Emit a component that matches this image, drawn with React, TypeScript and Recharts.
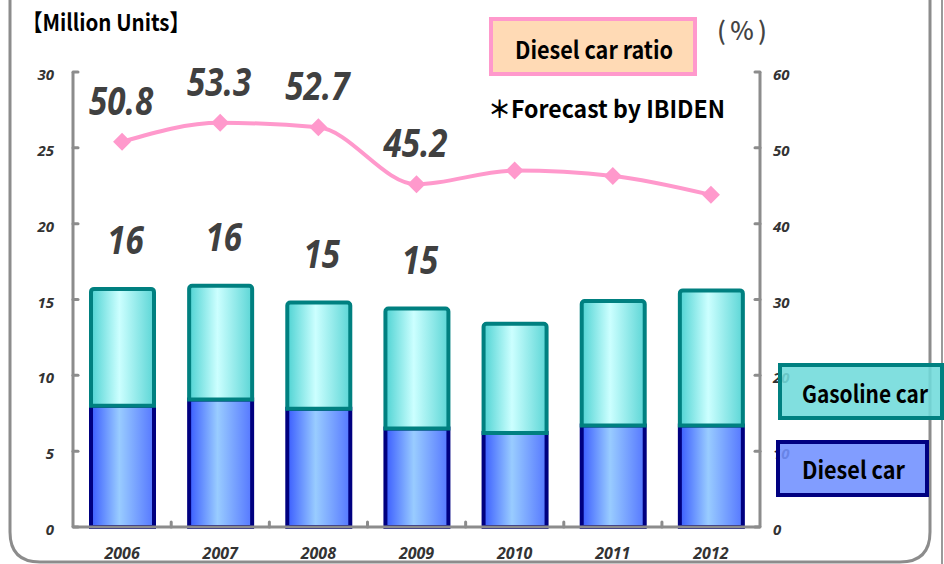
import React from "react";
import { Bar, ComposedChart, LabelList, Line, XAxis, YAxis } from "recharts";

const YEARS = ["2006", "2007", "2008", "2009", "2010", "2011", "2012"];
const DIESEL = [8.0, 8.4, 7.8, 6.5, 6.2, 6.7, 6.7];
const GASOLINE = [7.7, 7.5, 7.0, 7.9, 7.2, 8.2, 8.9];
const DIESEL_RATIO = [50.8, 53.3, 52.7, 45.2, 47.0, 46.3, 43.8];
const TOTAL_LABELS = ["16", "16", "15", "15", null, null, null];
const RATIO_LABELS = ["50.8", "53.3", "52.7", "45.2", null, null, null];
const LEFT_TICKS = [0, 5, 10, 15, 20, 25, 30];
const RIGHT_TICKS = [0, 10, 20, 30, 40, 50, 60];

const rows = YEARS.map((year, i) => ({
  year,
  diesel: DIESEL[i],
  gasoline: GASOLINE[i],
  ratio: DIESEL_RATIO[i],
  totalLabel: TOTAL_LABELS[i],
  ratioLabel: RATIO_LABELS[i],
}));

const AXIS = "#8c8c8c";
const NUM_FONT = "'Open Sans', 'DejaVu Sans', sans-serif";
const JP_FONT = "'Noto Sans CJK JP', 'Noto Sans', sans-serif";

function BigLabel({ x, y, text }: { x: number; y: number; text: string }) {
  return (
    <g transform={`translate(${x},${y}) scale(0.85,1)`}>
      <text
        x={0}
        y={14}
        textAnchor="middle"
        fontFamily={NUM_FONT}
        fontStyle="italic"
        fontWeight={700}
        fontSize={39}
        fill="#404040"
      >
        {text}
      </text>
    </g>
  );
}

const LeftTick = (props: any) => {
  const { x, y, payload } = props;
  return (
    <g>
      <line x1={x} x2={x + 5} y1={y} y2={y} stroke={AXIS} strokeWidth={3} strokeLinecap="round" />
      <text x={x - 19} y={y + 8} textAnchor="end" fontFamily={NUM_FONT} fontStyle="italic" fontWeight={700} fontSize={15} fill="#333">
        {payload.value}
      </text>
    </g>
  );
};

const RightTick = (props: any) => {
  const { x, y, payload } = props;
  return (
    <g>
      <line x1={x - 5} x2={x} y1={y} y2={y} stroke={AXIS} strokeWidth={3} strokeLinecap="round" />
      <text x={x + 13} y={y + 8} textAnchor="start" fontFamily={NUM_FONT} fontStyle="italic" fontWeight={700} fontSize={15} fill="#333">
        {payload.value}
      </text>
    </g>
  );
};

const BottomTick = (props: any) => {
  const { x, y, payload, index } = props;
  return (
    <g>
      {index > 0 && <line x1={x - 49} x2={x - 49} y1={y - 5} y2={y} stroke={AXIS} strokeWidth={3} strokeLinecap="round" />}
      <text x={x} y={y + 32} textAnchor="middle" fontFamily={NUM_FONT} fontStyle="italic" fontWeight={700} fontSize={16} fill="#333">
        {payload.value}
      </text>
    </g>
  );
};

const Diamond = (props: any) => {
  const { cx, cy, index } = props;
  return (
    <path
      key={`d-${index}`}
      d={`M${cx} ${cy - 9} L${cx + 9} ${cy} L${cx} ${cy + 9} L${cx - 9} ${cy} Z`}
      fill="#ff99cc"
    />
  );
};

export default function App() {
  return (
    <div style={{ position: "absolute", left: 0, top: 0, width: 944, height: 564, background: "#fff", overflow: "hidden" }}>
      <svg width={0} height={0} style={{ position: "absolute" }}>
        <defs>
          <linearGradient id="dieselGrad" x1="0" y1="0" x2="1" y2="0">
            <stop offset="0%" stopColor="#3a5cff" />
            <stop offset="45%" stopColor="#99ccff" />
            <stop offset="100%" stopColor="#5577ff" />
          </linearGradient>
          <linearGradient id="gasGrad" x1="0" y1="0" x2="1" y2="0">
            <stop offset="0%" stopColor="#4fd3d3" />
            <stop offset="45%" stopColor="#ccffff" />
            <stop offset="100%" stopColor="#5cd6d6" />
          </linearGradient>
        </defs>
      </svg>

      <svg width={944} height={564} style={{ position: "absolute", left: 0, top: 0 }}>
        <path d="M10 -10 L10 532 Q10 562 40 562 L900 562 Q930 562 930 532 L930 -10" fill="none" stroke={AXIS} strokeWidth={3} />
        <line x1={942} x2={942} y1={0} y2={564} stroke="#9a9a9a" strokeWidth={2} />
      </svg>

      <div style={{ position: "absolute", left: 0, top: 0 }}>
        <ComposedChart width={944} height={564} data={rows} margin={{ top: 72, right: 0, bottom: 0, left: 0 }} barCategoryGap="18%">
          <XAxis
            dataKey="year"
            height={37}
            axisLine={{ stroke: AXIS, strokeWidth: 3 }}
            tickLine={false}
            tickSize={0}
            tickMargin={0}
            tick={BottomTick}
            interval={0}
          />
          <YAxis
            yAxisId="left"
            orientation="left"
            width={73}
            domain={[0, 30]}
            ticks={LEFT_TICKS}
            interval={0}
            axisLine={{ stroke: AXIS, strokeWidth: 3 }}
            tickLine={false}
            tickSize={0}
            tickMargin={0}
            tick={LeftTick}
          />
          <YAxis
            yAxisId="right"
            orientation="right"
            width={184}
            domain={[0, 60]}
            ticks={RIGHT_TICKS}
            interval={0}
            axisLine={{ stroke: AXIS, strokeWidth: 3 }}
            tickLine={false}
            tickSize={0}
            tickMargin={0}
            tick={RightTick}
          />
          <Bar
            yAxisId="left"
            dataKey="diesel"
            stackId="units"
            barSize={63}
            fill="url(#dieselGrad)"
            stroke="#000080"
            strokeWidth={4}
            isAnimationActive={false}
          />
          <Bar
            yAxisId="left"
            dataKey="gasoline"
            stackId="units"
            barSize={63}
            fill="url(#gasGrad)"
            stroke="#008080"
            strokeWidth={4}
            radius={[3, 3, 0, 0]}
            isAnimationActive={false}
          >
            <LabelList
              dataKey="totalLabel"
              content={(p: any) =>
                p.value ? <BigLabel key={`t-${p.index}`} x={p.x + p.width / 2 + 3} y={p.y - 49} text={p.value} /> : null
              }
            />
          </Bar>
          <Line
            yAxisId="right"
            dataKey="ratio"
            type="monotone"
            stroke="#ff99cc"
            strokeWidth={4}
            dot={Diamond}
            activeDot={false}
            isAnimationActive={false}
          >
            <LabelList
              dataKey="ratioLabel"
              content={(p: any) => (p.value ? <BigLabel key={`r-${p.index}`} x={p.x - 1} y={p.y - 41} text={p.value} /> : null)}
            />
          </Line>
        </ComposedChart>
      </div>

      <svg width={944} height={564} style={{ position: "absolute", left: 0, top: 0, pointerEvents: "none" }}>
        <text x={22} y={31} textLength={168} lengthAdjust="spacingAndGlyphs" fontFamily={JP_FONT} fontWeight={700} fontSize={23} fill="#000">
          【Million Units】
        </text>

        <rect x={491} y={19} width={204} height={55} fill="#ffdab5" stroke="#ff99cc" strokeWidth={4} />
        <text x={515} y={59} textLength={158} lengthAdjust="spacingAndGlyphs" fontFamily={JP_FONT} fontWeight={700} fontSize={24} fill="#000">
          Diesel car ratio
        </text>
        <text x={717} y={40} textLength={50} lengthAdjust="spacing" fontFamily={JP_FONT} fontWeight={500} fontSize={25} fill="#444">
          (%)
        </text>
        <text x={488} y={118} textLength={237} lengthAdjust="spacingAndGlyphs" fontFamily={JP_FONT} fontWeight={700} fontSize={24} fill="#000">
          ＊Forecast by IBIDEN
        </text>

        <rect x={780} y={365} width={162} height={53} fill="#6fdbdb" fillOpacity={0.88} stroke="#008080" strokeWidth={4} />
        <text x={802} y={403} textLength={126} lengthAdjust="spacingAndGlyphs" fontFamily={JP_FONT} fontWeight={700} fontSize={24} fill="#000">
          Gasoline car
        </text>

        <rect x={778} y={442} width={149} height={53} fill="#7090ff" fillOpacity={0.88} stroke="#000080" strokeWidth={4} />
        <text x={802} y={479} textLength={103} lengthAdjust="spacingAndGlyphs" fontFamily={JP_FONT} fontWeight={700} fontSize={24} fill="#000">
          Diesel car
        </text>
      </svg>
    </div>
  );
}
